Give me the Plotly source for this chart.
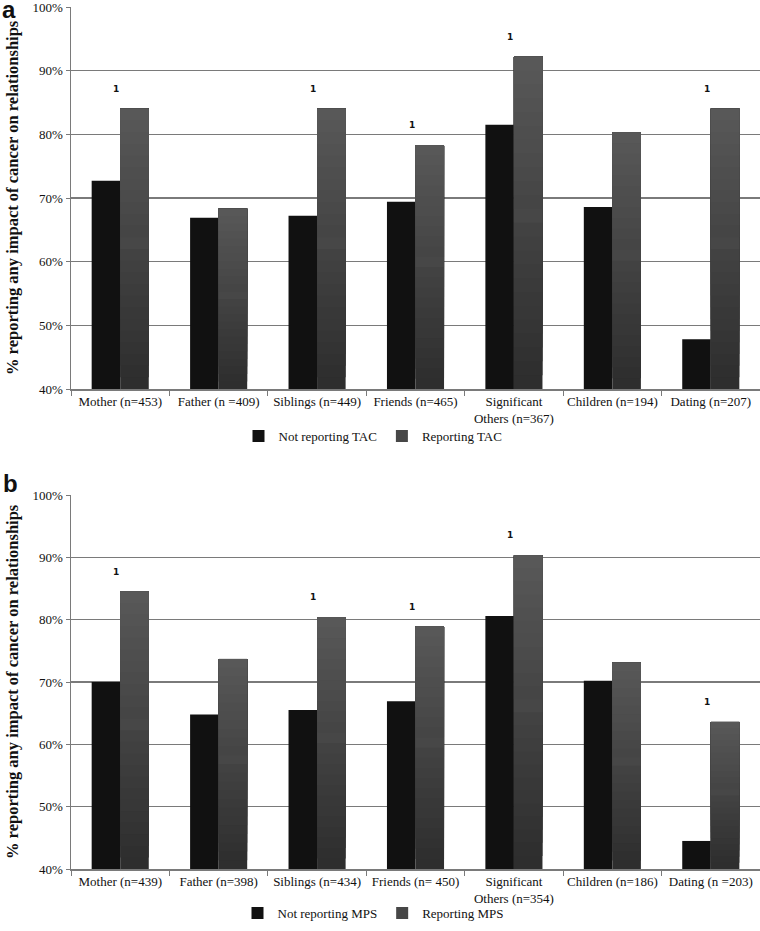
import plotly.graph_objects as go

H = 931
W = 760

categories_a = ["Mother (n=453)", "Father (n =409)", "Siblings (n=449)", "Friends (n=465)",
                "Significant<br>Others (n=367)", "Children (n=194)", "Dating (n=207)"]
not_tac = [72.7, 66.9, 67.2, 69.4, 81.5, 68.6, 47.8]
rep_tac = [84.0, 68.3, 84.0, 78.3, 92.2, 80.3, 84.0]
sig_a = [1, 0, 1, 1, 1, 0, 1]

categories_b = ["Mother (n=439)", "Father (n=398)", "Siblings (n=434)", "Friends (n= 450)",
                "Significant<br>Others (n=354)", "Children (n=186)", "Dating (n =203)"]
not_mps = [70.0, 64.8, 65.5, 66.9, 80.6, 70.2, 44.5]
rep_mps = [84.5, 73.7, 80.4, 78.9, 90.3, 73.1, 63.6]
sig_b = [1, 0, 1, 1, 1, 0, 1]

BASE = 40
SERIF = "Liberation Serif"
GRID = "#7a7a7a"
NSEG = 24


def ypx(px):
    return 1 - px / H


fig = go.Figure()


def add_panel(cats, s1, s2, name1, name2, xa, ya, legend):
    xs = list(range(len(cats)))
    fig.add_trace(go.Bar(x=xs, y=[v - BASE for v in s1], base=BASE, name=name1,
                         marker=dict(color="#111111", line=dict(width=0)),
                         offsetgroup="a", xaxis=xa, yaxis=ya, legend=legend,
                         hoverinfo="skip"))
    # vertical gradient for second series: overlapping layers, each reaching the bar top
    for k in range(NSEG):
        t = k / (NSEG - 1)
        c = int(0x2e + (0x58 - 0x2e) * t)
        col = f"rgb({c},{c},{c})"
        b = [BASE + (v - BASE) * k / NSEG for v in s2]
        h = [v - bb for v, bb in zip(s2, b)]
        fig.add_trace(go.Bar(x=xs, y=h, base=b, name=name2,
                             marker=dict(color=col if k != NSEG // 2 else "#474747", line=dict(width=0)),
                             offsetgroup="b", xaxis=xa, yaxis=ya, legend=legend,
                             showlegend=(k == NSEG // 2), legendgroup=name2 + xa,
                             hoverinfo="skip"))


add_panel(categories_a, not_tac, rep_tac, "Not reporting TAC", "Reporting TAC", "x", "y", "legend")
add_panel(categories_b, not_mps, rep_mps, "Not reporting MPS", "Reporting MPS", "x2", "y2", "legend2")

# significance markers
for cats, s2, sig, xr, yr in [(categories_a, rep_tac, sig_a, "x", "y"),
                              (categories_b, rep_mps, sig_b, "x2", "y2")]:
    for i, (v, s) in enumerate(zip(s2, sig)):
        if s:
            fig.add_annotation(x=i, y=v, xref=xr, yref=yr, text="<b>1</b>", showarrow=False,
                               xshift=-4, yshift=20,
                               font=dict(family="DejaVu Sans", size=9, color="#111"))

xcommon = dict(type="linear", range=[-0.5, 6.5], tickmode="array",
               showgrid=False, showline=True, linecolor=GRID, linewidth=1.5,
               ticks="", automargin=False, ticklabeloverflow="allow",
               tickfont=dict(family=SERIF, size=13, color="#111"),
               minor=dict(ticks="outside", ticklen=5, tickcolor=GRID,
                          tickmode="array", tickvals=[i - 0.5 for i in range(8)]),
               domain=[71 / W, 1], zeroline=False, fixedrange=True)
ycommon = dict(range=[40, 100], dtick=10, ticksuffix="%", showgrid=True, gridcolor=GRID,
               gridwidth=1.5, showline=True, linecolor=GRID, linewidth=1.5,
               ticks="outside", ticklen=4, tickcolor=GRID, automargin=False,
               ticklabeloverflow="allow", fixedrange=True,
               tickfont=dict(family=SERIF, size=13, color="#111"), zeroline=False)

fig.update_layout(
    template="none",
    width=W, height=H, margin=dict(l=0, r=0, t=0, b=0, pad=0),
    paper_bgcolor="white", plot_bgcolor="white",
    barmode="group", bargap=0.42, bargroupgap=0,
    xaxis=dict(**xcommon, tickvals=list(range(7)), ticktext=categories_a, anchor="y"),
    yaxis=dict(**ycommon, domain=[ypx(389), ypx(7)], anchor="x"),
    xaxis2=dict(**xcommon, tickvals=list(range(7)), ticktext=categories_b, anchor="y2"),
    yaxis2=dict(**ycommon, domain=[ypx(869), ypx(495)], anchor="x2"),
    legend=dict(orientation="h", x=373 / W, xanchor="center", y=ypx(436), yanchor="middle",
                font=dict(family=SERIF, size=13, color="#111"), itemwidth=30,
                bgcolor="rgba(0,0,0,0)"),
    legend2=dict(orientation="h", x=373 / W, xanchor="center", y=ypx(913), yanchor="middle",
                 font=dict(family=SERIF, size=13, color="#111"), itemwidth=30,
                 bgcolor="rgba(0,0,0,0)"),
    showlegend=True,
)

# y axis titles
for yc in [(7 + 389) / 2, (495 + 869) / 2]:
    fig.add_annotation(x=12 / W, y=ypx(yc), xref="paper", yref="paper", showarrow=False,
                       text="<b>% reporting any impact of cancer on relationships</b>",
                       textangle=-90, font=dict(family=SERIF, size=16.5, color="#111"),
                       xanchor="center", yanchor="middle")

# panel letters
fig.add_annotation(x=0, y=1, xref="paper", yref="paper", showarrow=False, text="<b>a</b>",
                   xanchor="left", yanchor="top", yshift=6,
                   font=dict(family="Liberation Sans", size=24, color="#111"))
fig.add_annotation(x=1 / W, y=ypx(468), xref="paper", yref="paper", showarrow=False, text="<b>b</b>",
                   xanchor="left", yanchor="top",
                   font=dict(family="Liberation Sans", size=24, color="#111"))

fig.write_html("out.html", config={"displayModeBar": False, "staticPlot": True},
               post_script="document.body.style.margin='0';document.body.style.overflow='hidden';")
